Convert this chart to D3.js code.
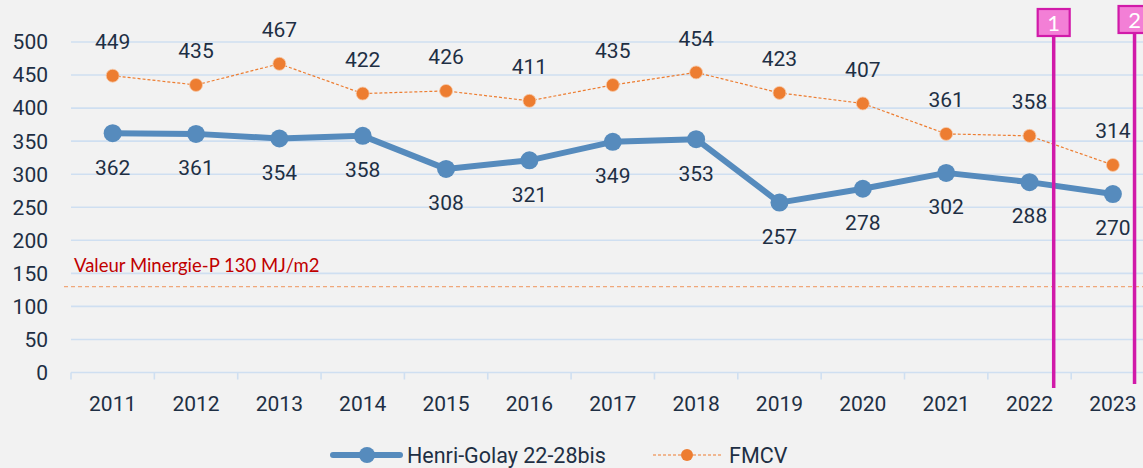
<!DOCTYPE html>
<html><head><meta charset="utf-8">
<script src="https://cdn.jsdelivr.net/npm/d3@7"></script>
<style>body{margin:0;background:#f2f2f2;}svg{display:block;}</style>
</head><body>
<svg id="c" width="1143" height="468"></svg>
<script>
const years = ["2011","2012","2013","2014","2015","2016","2017","2018","2019","2020","2021","2022","2023"];
const henriGolay = [362,361,354,358,308,321,349,353,257,278,302,288,270];
const fmcv = [449,435,467,422,426,411,435,454,423,407,361,358,314];
const yTicks = [0,50,100,150,200,250,300,350,400,450,500];
const minergieValue = 130;
const minergieLabel = "Valeur Minergie-P 130 MJ/m2";
const markers = [{label:"1", year:"2022", offset:0.29, top:37, bottom:388},{label:"2", year:"2023", offset:0.26, top:34, bottom:384}];
const seriesNames = ["Henri-Golay 22-28bis","FMCV"];

const svg = d3.select("#c");
const left = 71, step = 83.35;
const x = d3.scaleBand().domain(years).range([left, left + step*years.length]).padding(0);
const y = d3.scaleLinear().domain([0,500]).range([372.5, 42]);
const txt = "#1e2f44";
const font = "Roboto, 'Noto Sans', sans-serif";
const fs = 21;

// gridlines
svg.append("g").selectAll("line").data(yTicks).join("line")
  .attr("x1", left).attr("x2", 1143).attr("y1", d=>y(d)).attr("y2", d=>y(d))
  .attr("stroke", "#cfdff1").attr("stroke-width", 1.6);
// y labels
svg.append("g").selectAll("text").data(yTicks).join("text")
  .attr("x", 48).attr("y", d=>y(d)).attr("dy","0.35em").attr("text-anchor","end")
  .attr("font-family", font).attr("font-size", fs).attr("fill", txt).text(d=>d);
// x ticks
const tickX = years.map(d=>x(d)).concat([x.range()[1]]);
svg.append("g").selectAll("line").data(tickX).join("line")
  .attr("x1", d=>d).attr("x2", d=>d).attr("y1", y(0)).attr("y2", y(0)+7)
  .attr("stroke", "#cfdff1").attr("stroke-width", 1.6);
svg.append("g").selectAll("text").data(years).join("text")
  .attr("x", d=>x(d)+x.bandwidth()/2).attr("y", 404).attr("dy","0.35em").attr("text-anchor","middle")
  .attr("font-family", font).attr("font-size", fs).attr("fill", txt).text(d=>d);

// Minergie line
svg.append("line").attr("x1", 64).attr("x2", 1143).attr("y1", y(minergieValue)).attr("y2", y(minergieValue))
  .attr("stroke", "#f0a77a").attr("stroke-width", 1.3).attr("stroke-dasharray","4,3");
svg.append("text").attr("x", 74).attr("y", 272).attr("font-family","Lato, 'Open Sans', sans-serif")
  .attr("font-size", 18.5).attr("fill", "#c00000").text(minergieLabel);

const cx = (d,i)=>x(years[i])+x.bandwidth()/2;
// FMCV
const orange = "#ed7d31";
svg.append("path").datum(fmcv).attr("fill","none").attr("stroke", orange).attr("stroke-width",1.2)
  .attr("stroke-dasharray","3,2")
  .attr("d", d3.line().x(cx).y(d=>y(d)));
svg.append("g").selectAll("circle").data(fmcv).join("circle")
  .attr("cx", cx).attr("cy", d=>y(d)).attr("r", 6.5).attr("fill", orange)
  .attr("stroke","#f6c9a8").attr("stroke-width",0.8);
svg.append("g").selectAll("text").data(fmcv).join("text")
  .attr("x", cx).attr("y", d=>y(d)-34).attr("dy","0.35em").attr("text-anchor","middle")
  .attr("font-family", font).attr("font-size", fs).attr("fill", txt).text(d=>d);

// Henri-Golay
const blue = "#568bbd";
svg.append("path").datum(henriGolay).attr("fill","none").attr("stroke", blue).attr("stroke-width",6)
  .attr("stroke-linejoin","round")
  .attr("d", d3.line().x(cx).y(d=>y(d)));
svg.append("g").selectAll("circle").data(henriGolay).join("circle")
  .attr("cx", cx).attr("cy", d=>y(d)).attr("r", 9).attr("fill", blue);
svg.append("g").selectAll("text").data(henriGolay).join("text")
  .attr("x", cx).attr("y", d=>y(d)+34).attr("dy","0.35em").attr("text-anchor","middle")
  .attr("font-family", font).attr("font-size", fs).attr("fill", txt).text(d=>d);

// annotation markers
const mg = svg.append("g").selectAll("g").data(markers).join("g");
mg.append("line")
  .attr("x1", d=>x(d.year)+x.bandwidth()/2 + d.offset*step).attr("x2", d=>x(d.year)+x.bandwidth()/2 + d.offset*step)
  .attr("y1", d=>d.top).attr("y2", d=>d.bottom).attr("stroke", "#d11aa9").attr("stroke-width", 3.5);
mg.append("rect")
  .attr("x", d=>x(d.year)+x.bandwidth()/2 + d.offset*step - 16).attr("y", d=>d.top-28)
  .attr("width", 32).attr("height", 27).attr("fill", "#f37fd6").attr("stroke","#d11aa9").attr("stroke-width",2.2);
mg.append("text")
  .attr("x", d=>x(d.year)+x.bandwidth()/2 + d.offset*step).attr("y", d=>d.top-14).attr("dy","0.36em")
  .attr("text-anchor","middle").attr("font-family","Lato, sans-serif").attr("font-size",22).attr("fill","#fff").text(d=>d.label);

// legend
const lg = svg.append("g");
lg.append("line").attr("x1",333).attr("x2",400).attr("y1",455).attr("y2",455).attr("stroke",blue).attr("stroke-width",6).attr("stroke-linecap","round");
lg.append("circle").attr("cx",367).attr("cy",455).attr("r",8).attr("fill",blue);
lg.append("text").attr("x",407).attr("y",455).attr("dy","0.35em").attr("font-family",font).attr("font-size",21.5).attr("fill",txt).text(seriesNames[0]);
lg.append("line").attr("x1",653).attr("x2",721).attr("y1",455).attr("y2",455).attr("stroke",orange).attr("stroke-width",1.2).attr("stroke-dasharray","3,2");
lg.append("circle").attr("cx",687).attr("cy",455).attr("r",6).attr("fill",orange);
lg.append("text").attr("x",729).attr("y",455).attr("dy","0.35em").attr("font-family",font).attr("font-size",21.5).attr("fill",txt).text(seriesNames[1]);
</script>
</body></html>
